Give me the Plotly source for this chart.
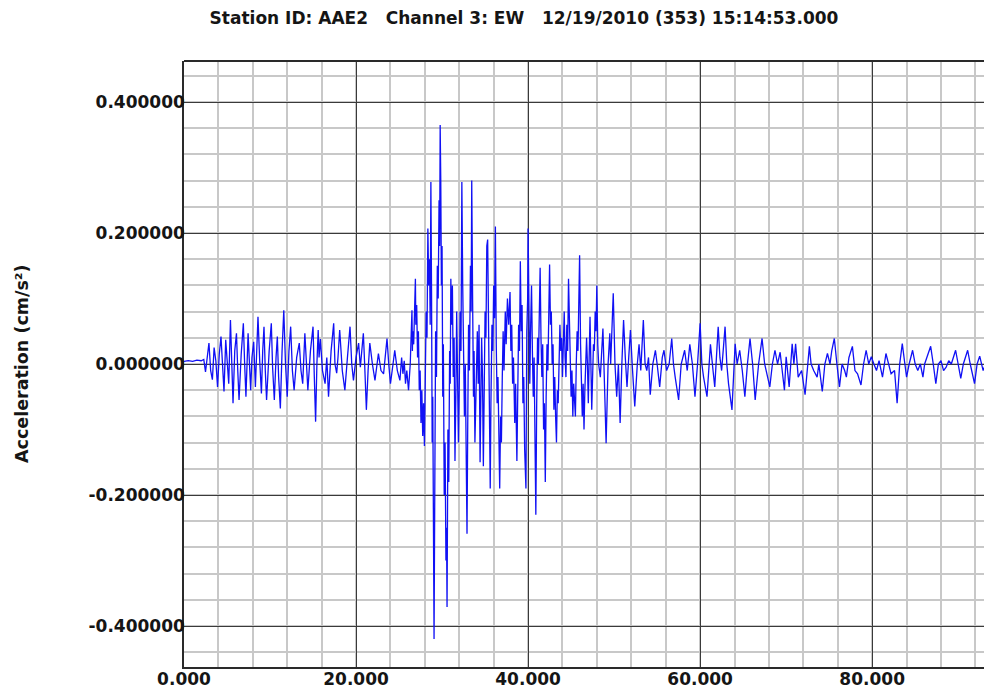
import plotly.graph_objects as go

# ---- data (turning points of the trace) ----
# pre-event + first arrivals (0 - 26.1 s)
time_early = [
    0.0, 0.5, 1.0, 1.5, 2.0, 2.3,
    2.5, 2.7, 2.9, 3.1, 3.3, 3.5, 3.7, 3.9, 4.1, 4.3, 4.5, 4.65, 4.85, 5.0,
    5.2, 5.4, 5.55, 5.7, 5.9, 6.1, 6.25, 6.4, 6.65, 6.9, 7.05, 7.2, 7.45, 7.6,
    7.75, 7.9, 8.1, 8.3, 8.6, 8.8, 9.0, 9.15, 9.3, 9.45, 9.6, 9.9, 10.15, 10.3,
    10.5, 10.7, 10.85, 11.0, 11.2, 11.4, 11.6, 11.8, 12.0, 12.2, 12.4, 12.6,
    12.8, 13.1, 13.4, 13.6, 13.8, 14.05, 14.2, 14.4, 14.7, 15.0, 15.15, 15.3,
    15.45, 15.6, 15.7, 15.85, 16.1, 16.4, 16.6, 16.8, 17.1, 17.4, 17.55, 17.75,
    17.9, 18.1, 18.4, 18.7, 19.0, 19.3, 19.5, 19.7, 20.0, 20.3, 20.5, 20.85,
    21.0, 21.2, 21.4, 21.6, 21.9, 22.2, 22.6, 22.9, 23.2, 23.6, 23.8, 24.0,
    24.3, 24.5, 24.8, 25.1, 25.3, 25.45, 25.6, 25.75, 25.9, 26.0, 26.1,
]
accel_early = [
    0.004, 0.005, 0.004, 0.006, 0.005, 0.007,
    -0.012, 0.010, 0.032, -0.010, -0.024, 0.025, 0.005, -0.035, 0.015, 0.042, -0.020, -0.042, 0.037, 0.010,
    -0.030, 0.067, 0.010, -0.060, 0.020, 0.047, -0.010, -0.055, 0.015, 0.062, 0.000, -0.050, 0.047, 0.000,
    -0.040, 0.010, 0.034, -0.035, 0.072, 0.005, -0.045, 0.020, 0.057, -0.010, -0.055, 0.020, 0.062, -0.005,
    -0.055, 0.010, 0.042, -0.020, -0.068, 0.020, 0.082, 0.000, -0.050, 0.020, 0.057, -0.010,
    -0.040, 0.010, 0.032, -0.010, -0.030, 0.047, 0.000, -0.040, 0.020, 0.057, -0.020, -0.088,
    0.000, 0.052, 0.010, 0.038, -0.010, -0.030, 0.010, -0.050, 0.020, 0.062, 0.000, -0.014,
    0.010, 0.052, -0.010, -0.040, 0.010, 0.057, 0.000, -0.025, 0.010, 0.032, -0.005, 0.047,
    0.000, -0.070, -0.010, 0.032, 0.000, -0.025, 0.016, -0.010, -0.015, 0.039, 0.000, -0.030,
    0.000, 0.021, -0.010, -0.025, 0.010, -0.015, 0.005, -0.030, -0.010, -0.035, -0.040,
]

# strong motion (26.3 - 48.2 s)
time_strong = [
    26.3, 26.4, 26.5, 26.55, 26.6, 26.7, 26.8, 26.9, 26.95, 27.05, 27.15, 27.25,
    27.35, 27.45, 27.55, 27.65, 27.75, 27.85, 27.95, 28.05, 28.15, 28.25, 28.35,
    28.45, 28.55, 28.62, 28.7, 28.78, 28.85, 28.92, 28.98, 29.02, 29.07, 29.15,
    29.25, 29.35, 29.45, 29.55, 29.65, 29.72, 29.78, 29.85, 29.92, 30.0, 30.08,
    30.15, 30.25, 30.35, 30.45, 30.52, 30.58, 30.68, 30.78, 30.88, 30.95, 31.02,
    31.1, 31.2, 31.3, 31.4, 31.5, 31.6, 31.7, 31.8, 31.9, 32.0, 32.1, 32.2,
    32.3, 32.4, 32.5, 32.6, 32.7, 32.8, 32.9, 32.98, 33.08, 33.18, 33.3, 33.38,
    33.45, 33.55, 33.65, 33.72, 33.82, 33.92, 34.0, 34.1, 34.2, 34.3, 34.42,
    34.5, 34.6, 34.7, 34.8, 34.9, 35.0, 35.1, 35.2, 35.3, 35.4, 35.5, 35.6,
    35.68, 35.8, 35.9, 36.0, 36.1, 36.2, 36.3, 36.4, 36.5, 36.6, 36.7, 36.8,
    36.9, 37.0, 37.1, 37.2, 37.35, 37.45, 37.6, 37.75, 37.9, 38.0, 38.1, 38.2,
    38.3, 38.45, 38.55, 38.7, 38.8, 38.9, 39.0, 39.1, 39.2, 39.3, 39.4, 39.5,
    39.6, 39.75, 39.85, 39.95, 40.0, 40.1, 40.2, 40.3, 40.4, 40.5, 40.6, 40.7,
    40.8, 40.9, 41.0, 41.1, 41.2, 41.3, 41.4, 41.5, 41.6, 41.7, 41.8, 41.9,
    42.0, 42.1, 42.2, 42.3, 42.4, 42.5, 42.6, 42.7, 42.8, 42.9, 43.0, 43.1,
    43.2, 43.3, 43.4, 43.5, 43.6, 43.7, 43.8, 43.9, 44.0, 44.1, 44.2, 44.3,
    44.4, 44.5, 44.6, 44.7, 44.8, 44.9, 45.0, 45.1, 45.2, 45.3, 45.4, 45.5,
    45.6, 45.7, 45.8, 45.9, 45.99, 46.1, 46.2, 46.3, 46.4, 46.5, 46.6, 46.7,
    46.8, 46.9, 47.0, 47.1, 47.2, 47.3, 47.4, 47.5, 47.6, 47.7, 47.8, 47.9,
    47.99, 48.1, 48.2,
]
accel_strong = [
    0.000, 0.060, 0.082, 0.020, 0.050, 0.030, 0.100, 0.130, 0.060, 0.090, 0.010, 0.050,
    -0.040, -0.010, -0.090, -0.040, -0.110, -0.060, -0.125, -0.020, 0.080, 0.040, 0.207,
    0.120, 0.160, 0.060, 0.278, 0.100, -0.120, -0.050, -0.350, -0.250, -0.420, -0.200,
    0.050, -0.020, 0.150, 0.100, 0.250, 0.180, 0.365, 0.280, 0.120, 0.180, -0.050,
    0.030, -0.200, -0.120, -0.300, -0.250, -0.371, -0.100, -0.180, 0.020, -0.030, 0.130,
    0.060, 0.120, -0.020, 0.040, -0.148, -0.050, 0.080, -0.020, -0.120, -0.030, 0.080, 0.020,
    0.278, 0.120, 0.050, -0.080, 0.000, -0.180, -0.259, -0.100, 0.060, -0.010, 0.150, 0.080,
    0.280, 0.100, -0.050, 0.020, -0.120, -0.060, 0.020, 0.050, -0.030, 0.060, -0.150,
    -0.060, 0.040, -0.020, -0.156, -0.040, 0.080, 0.040, 0.180, 0.190, 0.020, -0.100, -0.190,
    -0.060, 0.060, 0.020, 0.120, 0.070, 0.210, 0.030, -0.060, -0.020, -0.130, -0.190, -0.080,
    -0.120, -0.020, 0.050, -0.010, 0.080, 0.030, 0.100, 0.060, 0.110, 0.020, 0.060, -0.030,
    0.010, -0.090, -0.030, -0.148, -0.050, 0.060, 0.020, 0.157, 0.050, 0.090, -0.060, -0.020,
    -0.130, -0.190, 0.050, 0.100, 0.207, 0.080, -0.030, 0.060, 0.120, 0.020, -0.050, 0.010,
    -0.120, -0.230, -0.060, 0.040, 0.000, 0.100, 0.147, 0.040, -0.020, 0.030, -0.100, -0.060,
    -0.180, -0.050, 0.030, -0.010, 0.090, 0.152, 0.060, 0.080, 0.000, 0.030, -0.070, -0.020,
    -0.080, -0.120, -0.040, -0.060, 0.000, 0.060, 0.020, 0.040, -0.020, 0.030, 0.080, 0.010,
    -0.020, 0.060, 0.020, 0.130, 0.050, 0.000, -0.050, -0.010, -0.080, -0.030, -0.060, -0.080,
    0.000, 0.050, 0.020, 0.110, 0.166, 0.030, -0.040, -0.080, -0.030, -0.100, -0.040, 0.010,
    0.040, 0.000, -0.060, 0.010, 0.072, 0.000, -0.070, -0.020, 0.030, 0.020, 0.080, 0.050,
    0.120, 0.030, 0.000,
]

# coda (48.4 - 93.3 s)
time_coda = [
    48.4, 48.7, 48.9, 49.07, 49.3, 49.5, 49.6, 49.9, 50.1,
    50.3, 50.5, 50.7, 50.9, 51.1, 51.3, 51.5, 51.7, 51.9, 52.1, 52.4, 52.7,
    52.9, 53.1, 53.4, 53.6, 53.8, 54.0, 54.2, 54.5, 54.8, 55.0, 55.3, 55.6,
    55.8, 56.1, 56.4, 56.7, 56.9, 57.1, 57.5, 57.8, 58.2, 58.5, 58.8, 59.1,
    59.4, 59.7, 60.0, 60.2, 60.4, 60.8, 61.0, 61.2, 61.5, 61.7, 62.1, 62.3,
    62.5, 62.9, 63.1, 63.3, 63.7, 64.07, 64.3, 64.6, 64.9, 65.2, 65.5, 65.8,
    66.1, 66.4, 66.8, 67.2, 67.5, 67.8, 68.1, 68.4, 68.7, 69.0, 69.3, 69.8,
    70.0, 70.35, 70.7, 70.9, 71.1, 71.4, 71.8, 72.2, 72.7, 72.9, 73.2, 73.6,
    73.8, 74.2, 74.5, 74.8, 75.1, 75.3, 75.6, 75.9, 76.2, 76.5, 76.8, 77.0,
    77.3, 77.7, 78.0, 78.3, 78.7, 79.0, 79.3, 79.6, 79.9, 80.2, 80.5, 80.8,
    81.2, 81.6, 81.9, 82.2, 82.6, 82.9, 83.2, 83.5, 83.8, 84.0, 84.3, 84.7,
    85.0, 85.3, 85.6, 85.9, 86.1, 86.4, 86.8, 87.1, 87.4, 87.7, 88.0, 88.3,
    88.6, 88.9, 89.2, 89.7, 90.0, 90.3, 90.6, 91.1, 91.4, 91.9, 92.2, 92.5,
    92.9, 93.3,
]
accel_coda = [
    -0.020, 0.054, -0.040, -0.121, 0.000, 0.047, 0.000, 0.108, 0.000,
    -0.050, 0.000, -0.090, 0.000, 0.067, 0.010, -0.035, 0.010, 0.052, 0.000, -0.065, 0.000,
    0.030, -0.010, 0.067, 0.000, -0.010, 0.010, -0.047, 0.000, 0.021, 0.000, -0.035, 0.010,
    0.021, -0.010, 0.000, 0.039, 0.000, -0.020, -0.055, 0.000, 0.021, -0.010, 0.030, 0.000,
    -0.050, 0.000, 0.062, 0.000, -0.020, -0.050, 0.000, 0.030, -0.010, -0.035, 0.057, 0.010,
    -0.010, 0.057, 0.000, -0.030, -0.070, 0.031, 0.000, 0.021, -0.010, -0.050, 0.000, 0.039,
    0.000, -0.055, 0.000, 0.039, 0.000, -0.020, -0.035, 0.000, 0.021, 0.000, 0.018, -0.040,
    0.011, -0.035, 0.031, 0.000, 0.031, -0.020, -0.010, -0.047, 0.027, 0.000, -0.010, -0.020,
    0.000, -0.042, 0.000, 0.016, 0.000, 0.020, 0.039, 0.000, -0.035, 0.000, -0.010, -0.020,
    0.010, 0.027, -0.010, -0.015, -0.032, 0.000, 0.021, 0.000, 0.011, 0.000, -0.010, 0.005,
    -0.020, 0.016, 0.000, -0.015, -0.010, -0.060, 0.000, 0.031, 0.000, -0.020, 0.000, 0.021,
    0.000, -0.010, 0.000, -0.020, 0.000, 0.011, 0.027, 0.000, -0.030, 0.000, 0.005, -0.010,
    -0.005, 0.005, 0.000, 0.021, 0.000, -0.022, 0.000, 0.021, 0.000, -0.030, 0.000, 0.012,
    -0.010, 0.005,
]

x_tick_vals = [0, 20, 40, 60, 80]
x_tick_text = ["0.000", "20.000", "40.000", "60.000", "80.000"]
y_tick_vals = [0.4, 0.2, 0.0, -0.2, -0.4]
y_tick_text = ["0.400000", "0.200000", "0.000000", "-0.200000", "-0.400000"]

title_text = ("Station ID: AAE2\u00a0\u00a0\u00a0Channel 3: EW\u00a0\u00a0\u00a0"
              "12/19/2010 (353) 15:14:53.000")
y_title = "Acceleration (cm/s²)"

FONT = "DejaVu Sans"
TXT = "#151515"

time_s = time_early + time_strong + time_coda
accel = accel_early + accel_strong + accel_coda

fig = go.Figure()
fig.add_trace(go.Scatter(
    x=time_s, y=accel, mode="lines",
    line=dict(color="#1010f5", width=1.3),
    hoverinfo="skip", showlegend=False,
))

fig.update_layout(
    width=984, height=690,
    margin=dict(l=184, r=0, t=61, b=23, pad=0),
    paper_bgcolor="white", plot_bgcolor="white",
    font=dict(family=FONT, size=17, color=TXT),
    title=dict(text="<b>" + title_text + "</b>", x=524 / 984, xref="container",
               xanchor="center", y=1 - 18 / 690, yref="container", yanchor="middle",
               font=dict(family=FONT, size=17, color=TXT)),
    xaxis=dict(
        range=[0, 93.0], tickmode="array", tickvals=x_tick_vals,
        ticktext=["<b>" + t + "</b>" for t in x_tick_text],
        ticks="", showgrid=True, gridcolor="#3a3a3a", gridwidth=1,
        zeroline=False, showline=True, linecolor="#2a2a2a", linewidth=2,
        ticklabelstandoff=-4,
        minor=dict(tickmode="linear", tick0=0, dtick=4, showgrid=True,
                   gridcolor="#c8c8c8", gridwidth=2, ticks=""),
        tickfont=dict(family=FONT, size=17, color=TXT),
    ),
    yaxis=dict(
        range=[-0.4626, 0.4626], tickmode="array", tickvals=y_tick_vals,
        ticktext=["<b>" + t + "</b>" for t in y_tick_text],
        ticks="", showgrid=True, gridcolor="#3a3a3a", gridwidth=1,
        zeroline=False, showline=True, linecolor="#2a2a2a", linewidth=1.5,
        ticklabelstandoff=-6,
        minor=dict(tickmode="linear", tick0=0, dtick=0.04, showgrid=True,
                   gridcolor="#c8c8c8", gridwidth=2, ticks=""),
        tickfont=dict(family=FONT, size=17, color=TXT),
    ),
)

# top border of the plot frame
fig.add_shape(type="line", xref="paper", yref="paper", x0=0, x1=1, y0=1, y1=1,
              line=dict(color="#2a2a2a", width=2))

# rotated y-axis title
fig.add_annotation(text="<b>" + y_title + "</b>", xref="paper", yref="paper",
                   x=(22 - 184) / 800, y=0.5, xanchor="center", yanchor="middle",
                   textangle=-90, showarrow=False,
                   font=dict(family=FONT, size=17.5, color=TXT))

fig.write_html("out.html")
